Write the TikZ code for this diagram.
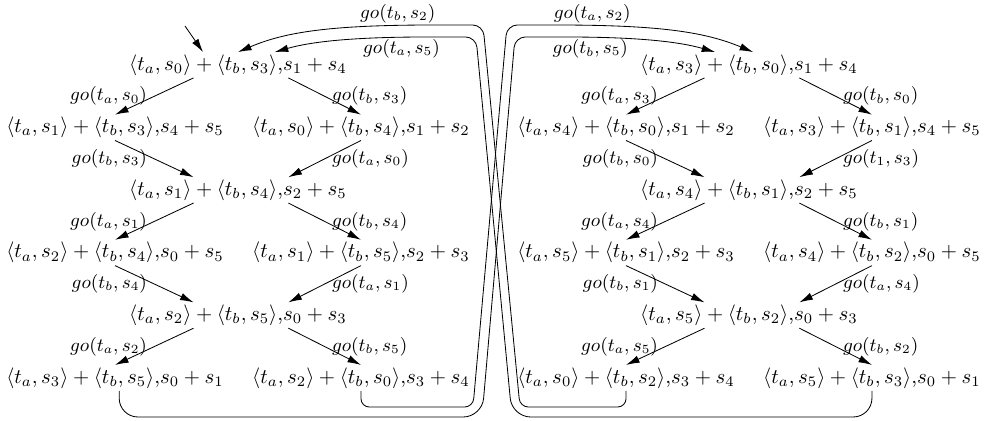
\documentclass[tikz,border=0pt]{standalone}
\usepackage{amsmath,amssymb}
\usepackage{tikz}
\usetikzlibrary{arrows.meta,positioning,calc}

\begin{document}
\begin{tikzpicture}[
    x=0.01687cm, y=-0.01687cm,
    node distance=1.056cm and 2.075cm, on grid,
    config/.style={inner sep=1pt},
    lbl/.style={font=\small},
    edge/.style={-{Latex[length=6.5pt,width=3.6pt]}},
    back/.style={edge, rounded corners=5pt}
  ]
    \useasboundingbox (0,0) rectangle (984,421);

    % left half
    \node[config] (l0) at (238,65) {$\langle t_a, s_0\rangle + \langle t_b, s_3\rangle$,$s_1 + s_4$};
    \node[config, below left=of l0] (ll1) {$\langle t_a, s_1\rangle + \langle t_b, s_3\rangle$,$s_4 + s_5$};
    \node[config, below right=of l0] (lr1) {$\langle t_a, s_0\rangle + \langle t_b, s_4\rangle$,$s_1 + s_2$};
    \node[config, below right=of ll1] (l2) {$\langle t_a, s_1\rangle + \langle t_b, s_4\rangle$,$s_2 + s_5$};
    \node[config, below left=of l2] (ll3) {$\langle t_a, s_2\rangle + \langle t_b, s_4\rangle$,$s_0 + s_5$};
    \node[config, below right=of l2] (lr3) {$\langle t_a, s_1\rangle + \langle t_b, s_5\rangle$,$s_2 + s_3$};
    \node[config, below right=of ll3] (l4) {$\langle t_a, s_2\rangle + \langle t_b, s_5\rangle$,$s_0 + s_3$};
    \node[config, below left=of l4] (ll5) {$\langle t_a, s_3\rangle + \langle t_b, s_5\rangle$,$s_0 + s_1$};
    \node[config, below right=of l4] (lr5) {$\langle t_a, s_2\rangle + \langle t_b, s_0\rangle$,$s_3 + s_4$};

    % right half
    \node[config] (r0) at (749,65) {$\langle t_a, s_3\rangle + \langle t_b, s_0\rangle$,$s_1 + s_4$};
    \node[config, below left=of r0] (rl1) {$\langle t_a, s_4\rangle + \langle t_b, s_0\rangle$,$s_1 + s_2$};
    \node[config, below right=of r0] (rr1) {$\langle t_a, s_3\rangle + \langle t_b, s_1\rangle$,$s_4 + s_5$};
    \node[config, below right=of rl1] (r2) {$\langle t_a, s_4\rangle + \langle t_b, s_1\rangle$,$s_2 + s_5$};
    \node[config, below left=of r2] (rl3) {$\langle t_a, s_5\rangle + \langle t_b, s_1\rangle$,$s_2 + s_3$};
    \node[config, below right=of r2] (rr3) {$\langle t_a, s_4\rangle + \langle t_b, s_2\rangle$,$s_0 + s_5$};
    \node[config, below right=of rl3] (r4) {$\langle t_a, s_5\rangle + \langle t_b, s_2\rangle$,$s_0 + s_3$};
    \node[config, below left=of r4] (rl5) {$\langle t_a, s_0\rangle + \langle t_b, s_2\rangle$,$s_3 + s_4$};
    \node[config, below right=of r4] (rr5) {$\langle t_a, s_5\rangle + \langle t_b, s_3\rangle$,$s_0 + s_1$};

    % initial arrow
    \coordinate (start) at (185,26);
    \draw[edge] (start) -- ([xshift=-0.59cm]l0.north);

    % left lattice
    \draw[edge] ([xshift=-0.75cm]l0.south) -- node[lbl, left] {$go(t_a, s_0)$} (ll1.north);
    \draw[edge] ([xshift=0.85cm]l0.south) -- node[lbl, right] {$go(t_b, s_3)$} (lr1.north);
    \draw[edge] (ll1.south) -- node[lbl, left] {$go(t_b, s_3)$} ([xshift=-0.75cm]l2.north);
    \draw[edge] (lr1.south) -- node[lbl, right] {$go(t_a, s_0)$} ([xshift=0.85cm]l2.north);
    \draw[edge] ([xshift=-0.75cm]l2.south) -- node[lbl, left] {$go(t_a, s_1)$} (ll3.north);
    \draw[edge] ([xshift=0.85cm]l2.south) -- node[lbl, right] {$go(t_b, s_4)$} (lr3.north);
    \draw[edge] (ll3.south) -- node[lbl, left] {$go(t_b, s_4)$} ([xshift=-0.75cm]l4.north);
    \draw[edge] (lr3.south) -- node[lbl, right] {$go(t_a, s_1)$} ([xshift=0.85cm]l4.north);
    \draw[edge] ([xshift=-0.75cm]l4.south) -- node[lbl, left] {$go(t_a, s_2)$} (ll5.north);
    \draw[edge] ([xshift=0.85cm]l4.south) -- node[lbl, right] {$go(t_b, s_5)$} (lr5.north);

    % right lattice
    \draw[edge] ([xshift=-0.75cm]r0.south) -- node[lbl, left] {$go(t_a, s_3)$} (rl1.north);
    \draw[edge] ([xshift=0.85cm]r0.south) -- node[lbl, right] {$go(t_b, s_0)$} (rr1.north);
    \draw[edge] (rl1.south) -- node[lbl, left] {$go(t_b, s_0)$} ([xshift=-0.75cm]r2.north);
    \draw[edge] (rr1.south) -- node[lbl, right] {$go(t_1, s_3)$} ([xshift=0.85cm]r2.north);
    \draw[edge] ([xshift=-0.75cm]r2.south) -- node[lbl, left] {$go(t_a, s_4)$} (rl3.north);
    \draw[edge] ([xshift=0.85cm]r2.south) -- node[lbl, right] {$go(t_b, s_1)$} (rr3.north);
    \draw[edge] (rl3.south) -- node[lbl, left] {$go(t_b, s_1)$} ([xshift=-0.75cm]r4.north);
    \draw[edge] (rr3.south) -- node[lbl, right] {$go(t_a, s_4)$} ([xshift=0.85cm]r4.north);
    \draw[edge] ([xshift=-0.75cm]r4.south) -- node[lbl, left] {$go(t_a, s_5)$} (rl5.north);
    \draw[edge] ([xshift=0.85cm]r4.south) -- node[lbl, right] {$go(t_b, s_2)$} (rr5.north);

    % crossing back edges
    \draw[back, rounded corners=9pt] ([xshift=0.07cm]ll5.south) |- (482,417) [rounded corners=5pt] -- (515,37) -- (555,37)
      .. controls (640,37) and (680,42) .. node[lbl, below, inner sep=1pt, pos=0.15] {$go(t_b, s_5)$} ([xshift=-0.57cm]r0.north);
    \draw[back, rounded corners=4pt] (lr5.south) |- (473,407) [rounded corners=5pt] -- (507,25) -- (545,25)
      .. controls (660,25) and (705,32) .. node[lbl, above, inner sep=1pt, pos=0.15] {$go(t_a, s_2)$} ([xshift=0.07cm]r0.north);
    \draw[back, rounded corners=4pt] (rl5.south) |- (520,407) [rounded corners=5pt] -- (483,25) -- (445,25)
      .. controls (330,25) and (285,32) .. node[lbl, above, inner sep=1pt, pos=0.15] {$go(t_b, s_2)$} (l0.north);
    \draw[back, rounded corners=9pt] (rr5.south) |- (512,417) [rounded corners=5pt] -- (476,37) -- (438,37)
      .. controls (350,37) and (310,42) .. node[lbl, below, inner sep=1pt, pos=0.15] {$go(t_a, s_5)$} ([xshift=0.62cm]l0.north);
  \end{tikzpicture}
\end{document}
